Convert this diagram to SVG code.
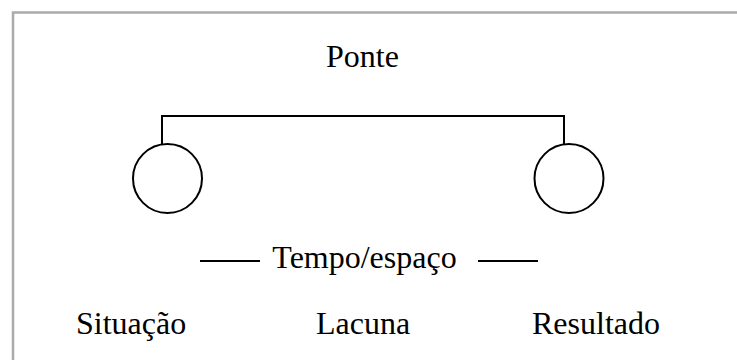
<svg xmlns="http://www.w3.org/2000/svg" width="737" height="360" viewBox="0 0 737 360">
<style>
text{font-family:"Liberation Serif","Times New Roman",serif;font-size:32px;fill:#000}
.ln{stroke:#000;stroke-width:2;fill:none}
.nd{stroke:#000;stroke-width:2;fill:#fff}
</style>
<rect width="737" height="360" fill="#fff"/>
<path d="M13 362 V12.5 H738" stroke="#aaa" stroke-width="2.5" fill="none"/>
<g id="ponte"><text x="362.5" y="67" text-anchor="middle">Ponte</text></g>
<g id="connectors">
<path class="ln" d="M162 144 V116 H564 V144"/>
<line class="ln" x1="200" y1="261" x2="260" y2="261"/>
<line class="ln" x1="478" y1="261" x2="538" y2="261"/>
</g>
<g id="situacao-node"><circle class="nd" cx="167.5" cy="178.5" r="34.5"/></g>
<g id="resultado-node"><circle class="nd" cx="569" cy="178.5" r="34.5"/></g>
<g id="tempo"><text x="364.5" y="268" text-anchor="middle">Tempo/espaço</text></g>
<g id="situacao"><text x="76" y="334">Situação</text></g>
<g id="lacuna"><text x="316" y="334">Lacuna</text></g>
<g id="resultado"><text x="532" y="334">Resultado</text></g>
</svg>
